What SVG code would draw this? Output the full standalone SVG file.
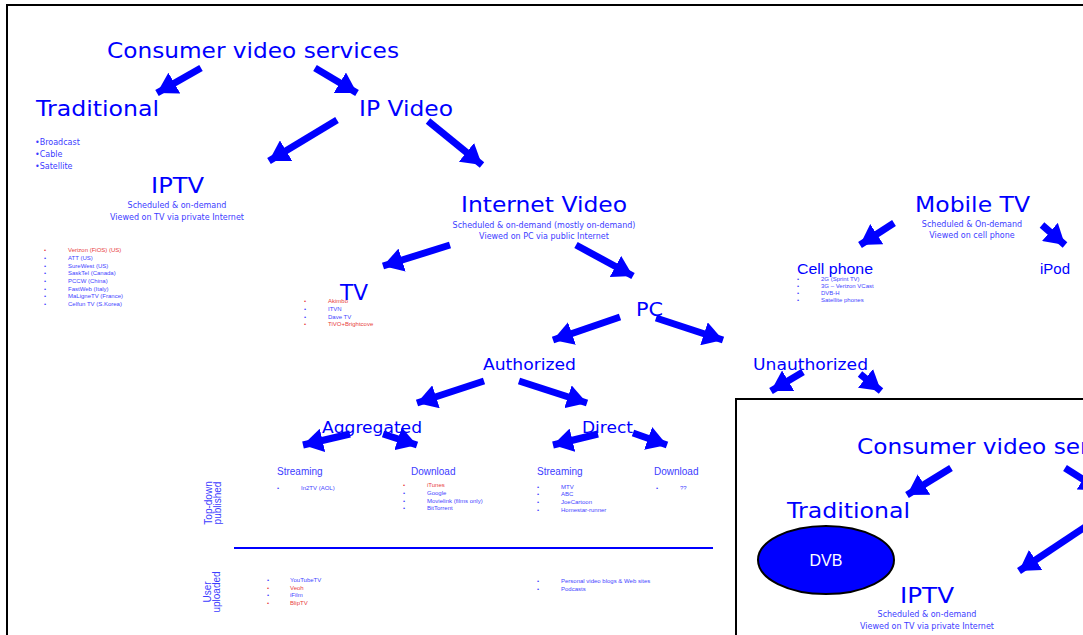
<svg xmlns="http://www.w3.org/2000/svg" width="1083" height="635" viewBox="0 0 1083 635">
<style>
text{font-family:"Liberation Sans",Arial,sans-serif;}
.big{fill:#0000ff;font-size:22px;font-family:"DejaVu Sans",sans-serif;}
.mid{fill:#0000ff;font-size:16px;font-family:"DejaVu Sans",sans-serif;}
.sub{fill:#3c3cff;font-size:8px;font-family:"DejaVu Sans",sans-serif;}
.hd{fill:#3c3cff;font-size:10px;}
.li{fill:#4444ff;font-size:6px;}
.red{fill:#e84040;}
.c{text-anchor:middle;}
.arr{stroke:#0000ff;stroke-width:7;fill:none;marker-end:url(#ah);}
</style>
<defs>
<marker id="ah" markerUnits="userSpaceOnUse" markerWidth="22" markerHeight="24" refX="20" refY="12" orient="auto">
<path d="M0,0 L20,12 L0,24 z" fill="#0000ff"/>
</marker>
</defs>
<rect width="1083" height="635" fill="#ffffff"/>
<rect x="7" y="5" width="1090" height="650" fill="none" stroke="#000" stroke-width="2"/>

<g id="connectors">
<line class="arr" x1="201" y1="68" x2="157" y2="93"/>
<line class="arr" x1="315" y1="68" x2="357" y2="93"/>
<line class="arr" x1="337" y1="120" x2="269" y2="161"/>
<line class="arr" x1="428" y1="121" x2="482" y2="165"/>
<line class="arr" x1="450" y1="245" x2="383" y2="266"/>
<line class="arr" x1="576" y1="245" x2="633" y2="276"/>
<line class="arr" x1="620" y1="317" x2="553" y2="340"/>
<line class="arr" x1="656" y1="318" x2="723" y2="340"/>
<line class="arr" x1="484" y1="381" x2="417" y2="403"/>
<line class="arr" x1="519" y1="381" x2="587" y2="403"/>
<line class="arr" x1="350" y1="434" x2="303" y2="445"/>
<line class="arr" x1="383" y1="434" x2="417" y2="445"/>
<line class="arr" x1="598" y1="434" x2="553" y2="445"/>
<line class="arr" x1="633" y1="433" x2="667" y2="445"/>
<line class="arr" x1="803" y1="372" x2="771" y2="391"/>
<line class="arr" x1="860" y1="374" x2="881" y2="391"/>
<line class="arr" x1="894" y1="223" x2="860" y2="245"/>
<line class="arr" x1="1042" y1="225" x2="1065" y2="245"/>
<line x1="234" y1="548" x2="713" y2="548" stroke="#0000ff" stroke-width="2"/>
</g>

<g id="consumer"><text class="big" x="107" y="58" textLength="292" lengthAdjust="spacingAndGlyphs">Consumer video services</text></g>
<g id="traditional">
<text class="big" x="36" y="116" textLength="123" lengthAdjust="spacingAndGlyphs">Traditional</text>
<text class="sub" x="35" y="145">•Broadcast</text>
<text class="sub" x="35" y="157">•Cable</text>
<text class="sub" x="35" y="169">•Satellite</text>
</g>
<g id="ipvideo"><text class="big" x="359" y="116" textLength="94" lengthAdjust="spacingAndGlyphs">IP Video</text></g>
<g id="iptv">
<text class="big" x="151" y="193" textLength="53" lengthAdjust="spacingAndGlyphs">IPTV</text>
<text class="sub c" x="177" y="208">Scheduled &amp; on-demand</text>
<text class="sub c" x="177" y="220">Viewed on TV via private Internet</text>
<g class="li">
<text class="red" x="44" y="252">•</text><text class="red" x="68" y="252">Verizon (FiOS) (US)</text>
<text x="44" y="260">•</text><text x="68" y="260">ATT (US)</text>
<text x="44" y="268">•</text><text x="68" y="268">SureWest (US)</text>
<text x="44" y="275">•</text><text x="68" y="275">SaskTel (Canada)</text>
<text x="44" y="283">•</text><text x="68" y="283">PCCW (China)</text>
<text x="44" y="291">•</text><text x="68" y="291">FastWeb (Italy)</text>
<text x="44" y="298">•</text><text x="68" y="298">MaLigneTV (France)</text>
<text x="44" y="306">•</text><text x="68" y="306">Celfun TV (S.Korea)</text>
</g>
</g>
<g id="internetvideo">
<text class="big" x="461" y="212" textLength="166" lengthAdjust="spacingAndGlyphs">Internet Video</text>
<text class="sub c" x="544" y="228">Scheduled &amp; on-demand (mostly on-demand)</text>
<text class="sub c" x="544" y="239">Viewed on PC via public Internet</text>
</g>
<g id="tv">
<text class="big" x="340" y="300" textLength="28" lengthAdjust="spacingAndGlyphs">TV</text>
<g class="li">
<text class="red" x="304" y="303">•</text><text class="red" x="328" y="303">Akimbo</text>
<text x="304" y="311">•</text><text x="328" y="311">ITVN</text>
<text x="304" y="319">•</text><text x="328" y="319">Dave TV</text>
<text class="red" x="304" y="326">•</text><text class="red" x="328" y="326">TiVO+Brightcove</text>
</g>
</g>
<g id="pc"><text class="big" x="636" y="316" style="font-size:20px" textLength="27" lengthAdjust="spacingAndGlyphs">PC</text></g>
<g id="authorized"><text class="mid" x="483" y="370" textLength="93" lengthAdjust="spacingAndGlyphs">Authorized</text></g>
<g id="unauthorized"><text class="mid" x="753" y="370" textLength="115" lengthAdjust="spacingAndGlyphs">Unauthorized</text></g>
<g id="aggregated"><text class="mid" x="322" y="433" textLength="100" lengthAdjust="spacingAndGlyphs">Aggregated</text></g>
<g id="direct"><text class="mid" x="582" y="433" textLength="51" lengthAdjust="spacingAndGlyphs">Direct</text></g>

<g id="agg-streaming">
<text class="hd" x="277" y="475">Streaming</text>
<g class="li"><text x="277" y="490">•</text><text x="301" y="490">In2TV (AOL)</text></g>
</g>
<g id="agg-download">
<text class="hd" x="411" y="475">Download</text>
<g class="li">
<text class="red" x="403" y="487">•</text><text class="red" x="427" y="487">iTunes</text>
<text x="403" y="495">•</text><text x="427" y="495">Google</text>
<text x="403" y="503">•</text><text x="427" y="503">Movielink (films only)</text>
<text x="403" y="510">•</text><text x="427" y="510">BitTorrent</text>
</g>
</g>
<g id="dir-streaming">
<text class="hd" x="537" y="475">Streaming</text>
<g class="li">
<text x="537" y="489">•</text><text x="561" y="489">MTV</text>
<text x="537" y="496">•</text><text x="561" y="496">ABC</text>
<text x="537" y="504">•</text><text x="561" y="504">JoeCartoon</text>
<text x="537" y="512">•</text><text x="561" y="512">Homestar-runner</text>
</g>
</g>
<g id="dir-download">
<text class="hd" x="654" y="475">Download</text>
<g class="li"><text x="656" y="490">•</text><text x="680" y="490">??</text></g>
</g>
<g id="topdown">
<text class="hd c" transform="translate(212,503) rotate(-90)">Top-down</text>
<text class="hd c" transform="translate(221,503) rotate(-90)">published</text>
</g>
<g id="useruploaded">
<text class="hd c" transform="translate(211,592) rotate(-90)">User</text>
<text class="hd c" transform="translate(220,592) rotate(-90)">uploaded</text>
</g>
<g id="user-agg" class="li">
<text x="267" y="582">•</text><text x="290" y="582">YouTubeTV</text>
<text class="red" x="267" y="590">•</text><text class="red" x="290" y="590">Veoh</text>
<text x="267" y="597">•</text><text x="290" y="597">iFilm</text>
<text class="red" x="267" y="605">•</text><text class="red" x="290" y="605">BlipTV</text>
</g>
<g id="user-dir" class="li">
<text x="537" y="583">•</text><text x="561" y="583">Personal video blogs &amp; Web sites</text>
<text x="537" y="591">•</text><text x="561" y="591">Podcasts</text>
</g>

<g id="mobiletv">
<text class="big" x="915" y="212" textLength="115" lengthAdjust="spacingAndGlyphs">Mobile TV</text>
<text class="sub c" x="972" y="227">Scheduled &amp; On-demand</text>
<text class="sub c" x="972" y="238">Viewed on cell phone</text>
</g>
<g id="cellphone">
<text x="797" y="274" style="fill:#0000ff;font-size:14px" textLength="76" lengthAdjust="spacingAndGlyphs">Cell phone</text>
<g class="li" style="font-size:6px;font-family:'DejaVu Sans',sans-serif">
<text x="797" y="281">•</text><text x="821" y="281">2G (Sprint TV)</text>
<text x="797" y="288">•</text><text x="821" y="288">3G – Verizon VCast</text>
<text x="797" y="295">•</text><text x="821" y="295">DVB-H</text>
<text x="797" y="302">•</text><text x="821" y="302">Satellite phones</text>
</g>
</g>
<g id="ipod"><text x="1040" y="274" style="fill:#0000ff;font-size:14px" textLength="30" lengthAdjust="spacingAndGlyphs">iPod</text></g>

<g id="inset">
<rect x="736" y="399" width="360" height="250" fill="#ffffff" stroke="#000" stroke-width="2"/>
<text class="big" x="857" y="454" textLength="292" lengthAdjust="spacingAndGlyphs">Consumer video services</text>
<line class="arr" x1="951" y1="468" x2="907" y2="495"/>
<line class="arr" x1="1065" y1="468" x2="1100" y2="490"/>
<line class="arr" x1="1085" y1="527" x2="1019" y2="571"/>
<text class="big" x="787" y="518" textLength="123" lengthAdjust="spacingAndGlyphs">Traditional</text>
<g id="dvb">
<ellipse cx="826" cy="560" rx="68" ry="34" fill="#0000ff" stroke="#000" stroke-width="2"/>
<text x="826" y="566" text-anchor="middle" style="fill:#fff;font-size:16px;font-family:'Liberation Sans Narrow','Liberation Sans',sans-serif">DVB</text>
</g>
<text class="big" x="900" y="603" textLength="54" lengthAdjust="spacingAndGlyphs">IPTV</text>
<text class="sub c" x="927" y="617">Scheduled &amp; on-demand</text>
<text class="sub c" x="927" y="629">Viewed on TV via private Internet</text>
</g>
</svg>
